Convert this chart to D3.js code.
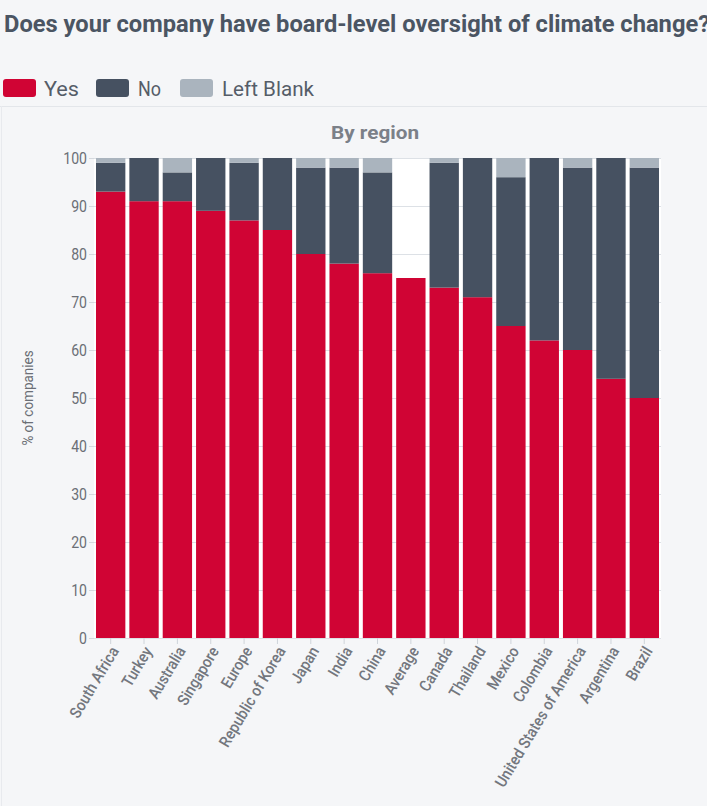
<!DOCTYPE html>
<html>
<head>
<meta charset="utf-8">
<script src="https://cdn.jsdelivr.net/npm/d3@7/dist/d3.min.js"></script>
<style>
  html, body { margin: 0; padding: 0; background: #f5f6f8; }
  svg { display: block; }
</style>
</head>
<body>
<script>
const categories = ["South Africa","Turkey","Australia","Singapore","Europe","Republic of Korea","Japan","India","China","Average","Canada","Thailand","Mexico","Colombia","United States of America","Argentina","Brazil"];
const yesValues   = [93, 91, 91, 89, 87, 85, 80, 78, 76, 75, 73, 71, 65, 62, 60, 54, 50];
const noValues    = [ 6,  9,  6, 11, 12, 15, 18, 20, 21,  0, 26, 29, 31, 38, 38, 46, 48];
const blankValues = [ 1,  0,  3,  0,  1,  0,  2,  2,  3,  0,  1,  0,  4,  0,  2,  0,  2];
const seriesNames = ["Yes", "No", "Left Blank"];
const yTicks = [0, 10, 20, 30, 40, 50, 60, 70, 80, 90, 100];

const colors = { "Yes": "#d00434", "No": "#465161", "Left Blank": "#aab4be" };

const W = 707, H = 806;
const svg = d3.select("body").append("svg").attr("width", W).attr("height", H);

svg.append("rect").attr("width", W).attr("height", H).attr("fill", "#f5f6f8");

// Title
svg.append("text")
  .attr("x", 4).attr("y", 32)
  .attr("font-family", "Roboto, 'Noto Sans', sans-serif")
  .attr("font-weight", "bold")
  .attr("font-size", 23)
  .attr("fill", "#4b5563")
  .attr("textLength", 706)
  .attr("lengthAdjust", "spacingAndGlyphs")
  .text("Does your company have board-level oversight of climate change?");

// Legend
const legendItems = [
  { name: "Yes", sx: 3, tx: 44, tw: 35 },
  { name: "No", sx: 96, tx: 138, tw: 23 },
  { name: "Left Blank", sx: 180, tx: 222, tw: 92 }
];
legendItems.forEach(d => {
  svg.append("rect").attr("x", d.sx).attr("y", 79).attr("width", 33).attr("height", 18)
    .attr("rx", 3).attr("fill", colors[d.name]);
  svg.append("text").attr("x", d.tx).attr("y", 96)
    .attr("font-family", "Roboto, sans-serif").attr("font-size", 20)
    .attr("fill", "#555d68")
    .attr("textLength", d.tw).attr("lengthAdjust", "spacingAndGlyphs")
    .text(d.name);
});

// Panel border
svg.append("line").attr("x1", 0).attr("x2", W).attr("y1", 106.5).attr("y2", 106.5)
  .attr("stroke", "#e3e6ea").attr("stroke-width", 1);
svg.append("line").attr("x1", 1.5).attr("x2", 1.5).attr("y1", 106).attr("y2", H)
  .attr("stroke", "#e8eaee").attr("stroke-width", 1);

// Subtitle
svg.append("text").attr("x", 375).attr("y", 139).attr("text-anchor", "middle")
  .attr("font-family", "Roboto, sans-serif").attr("font-weight", "bold").attr("font-size", 18)
  .attr("fill", "#7b8088")
  .attr("textLength", 88).attr("lengthAdjust", "spacingAndGlyphs")
  .text("By region");

const plot = { left: 94, right: 661, top: 158, bottom: 638 };

const x = d3.scaleBand().domain(categories).range([plot.left, plot.right])
  .paddingInner(0.12).paddingOuter(0.06);
const y = d3.scaleLinear().domain([0, 100]).range([plot.bottom, plot.top]);

// White plot background
svg.append("rect").attr("x", plot.left).attr("y", plot.top)
  .attr("width", plot.right - plot.left).attr("height", plot.bottom - plot.top)
  .attr("fill", "#ffffff");

// Gridlines
svg.append("g").selectAll("line").data(yTicks).join("line")
  .attr("x1", plot.left).attr("x2", plot.right)
  .attr("y1", d => Math.round(y(d)) + 0.5).attr("y2", d => Math.round(y(d)) + 0.5)
  .attr("stroke", "#dde1e6").attr("stroke-width", 1);

// Stacked data
const table = categories.map((c, i) => ({ cat: c, "Yes": yesValues[i], "No": noValues[i], "Left Blank": blankValues[i] }));
const stack = d3.stack().keys(seriesNames)(table);

svg.append("g").selectAll("g").data(stack).join("g")
  .attr("fill", s => colors[s.key])
  .selectAll("rect").data(s => s.filter(d => d[1] - d[0] > 0)).join("rect")
  .attr("x", d => x(d.data.cat))
  .attr("width", x.bandwidth())
  .attr("y", d => y(d[1]))
  .attr("height", d => y(d[0]) - y(d[1]));

// Y axis
const yAxis = svg.append("g").attr("transform", `translate(${plot.left},0)`)
  .call(d3.axisLeft(y).tickValues(yTicks).tickSize(5).tickPadding(2));
yAxis.select(".domain").remove();
yAxis.selectAll(".tick line").attr("stroke", "#d5d9de");
yAxis.selectAll(".tick text")
  .attr("font-family", "Roboto, sans-serif").attr("font-size", 16)
  .attr("fill", "#6b6f76")
  .attr("x", -8)
  .attr("transform", "scale(0.88,1)");

// Y axis title
svg.append("text")
  .attr("transform", "translate(33,398) rotate(-90) scale(0.9,1)")
  .attr("text-anchor", "middle")
  .attr("font-family", "Roboto, sans-serif").attr("font-size", 15)
  .attr("fill", "#6b6f76")
  .text("% of companies");

// X axis
const xAxis = svg.append("g").attr("transform", `translate(0,${plot.bottom})`)
  .call(d3.axisBottom(x).tickSize(6).tickPadding(4));
xAxis.select(".domain").remove();
xAxis.selectAll(".tick line").attr("stroke", "#cfd4da");
xAxis.selectAll(".tick text")
  .attr("font-family", "Roboto, sans-serif").attr("font-size", 16).attr("font-weight", 500)
  .attr("fill", "#73777e")
  .attr("text-anchor", "end")
  .attr("dy", "0.35em")
  .attr("transform", "translate(4,10) rotate(-59) scale(0.9,1)")
  .attr("y", 0).attr("x", 0);
</script>
</body>
</html>
